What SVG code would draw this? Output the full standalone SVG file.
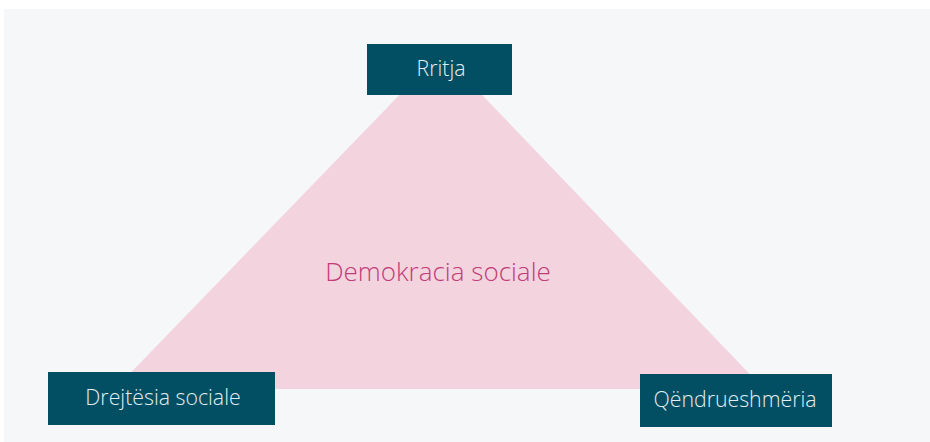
<svg xmlns="http://www.w3.org/2000/svg" width="930" height="442" viewBox="0 0 930 442">
<style>
.box{fill:#024f64}
.lbl{font-family:"Open Sans","Noto Sans",sans-serif;font-weight:300;font-size:21.3px;fill:#e3eef2;text-anchor:middle}
.center{font-family:"Open Sans","Noto Sans",sans-serif;font-weight:300;font-size:26px;fill:#c23c78;text-anchor:middle}
</style>
<rect x="0" y="0" width="930" height="442" fill="#ffffff"/>
<rect x="4" y="9" width="926" height="433" fill="#f6f7f9"/>
<g id="triangle">
<polygon points="441,52 764,389 115,389" fill="#f2d3de"/>
<text class="center" x="438" y="281">Demokracia sociale</text>
</g>
<g id="connectors"></g>
<g id="node-rritja">
<rect class="box" x="367" y="44" width="145" height="51"/>
<text class="lbl" x="441" y="76">Rritja</text>
</g>
<g id="node-drejtesia">
<rect class="box" x="48" y="372" width="227" height="53"/>
<text class="lbl" x="163" y="405">Drejtësia sociale</text>
</g>
<g id="node-qendrueshmeria">
<rect class="box" x="640" y="374" width="192" height="53"/>
<text class="lbl" x="735" y="407">Qëndrueshmëria</text>
</g>
</svg>
